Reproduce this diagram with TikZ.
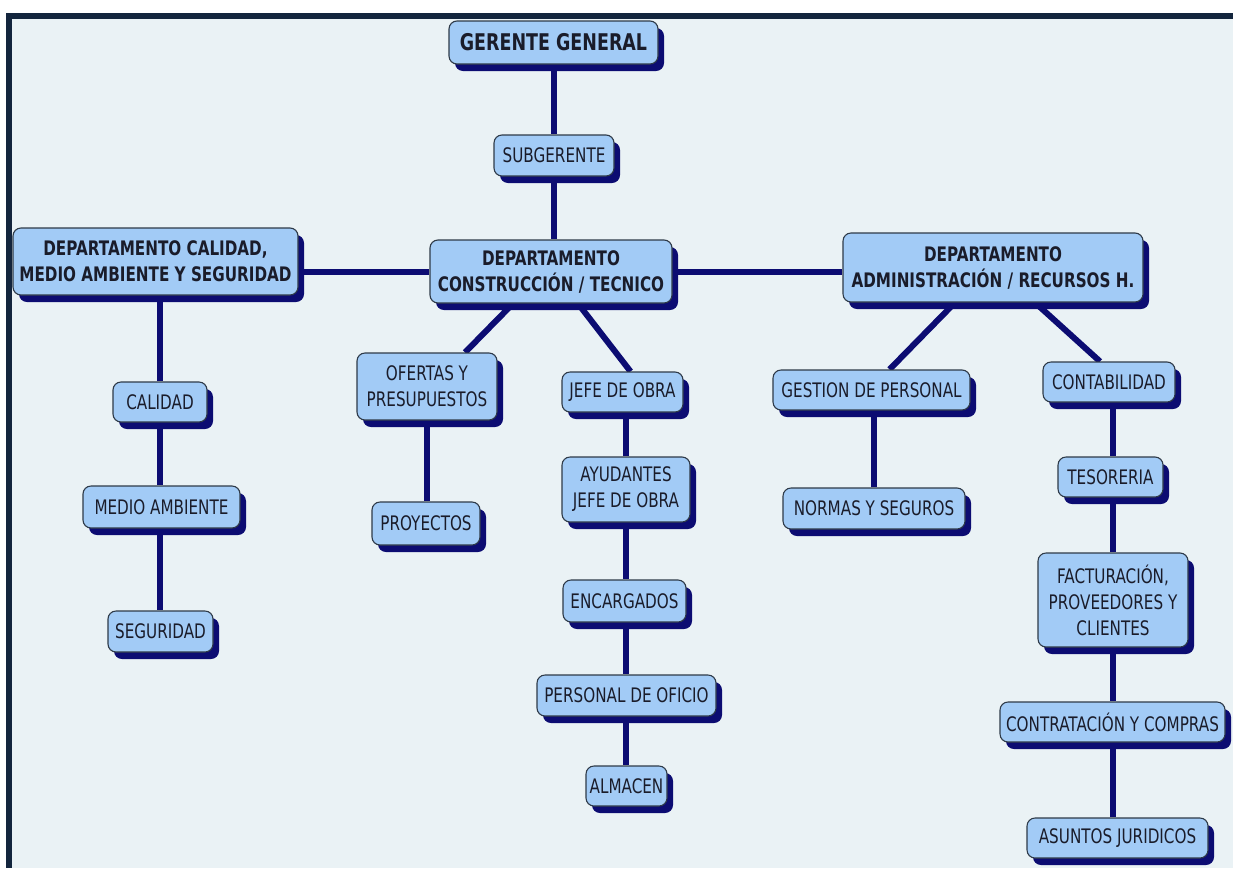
\documentclass[tikz,border=0pt]{standalone}
\usepackage{fontspec}
\setmainfont{DejaVu Sans}[FakeStretch=0.76]
\usetikzlibrary{shadows,calc}
\definecolor{pagebg}{HTML}{EAF2F5}
\definecolor{framecol}{HTML}{13253D}
\definecolor{boxfill}{HTML}{A2CBF6}
\definecolor{boxline}{HTML}{2E3A48}
\definecolor{navy}{HTML}{0C0C72}
\definecolor{ink}{HTML}{1A1C2A}
\pgfdeclarelayer{back}
\pgfdeclarelayer{links}
\pgfsetlayers{back,links,main}
\tikzset{
  orgbox/.style={draw=boxline, line width=1.1pt, fill=boxfill, rounded corners=8pt,
    text=ink, align=center, inner sep=2pt,
    font=\fontsize{20}{26}\selectfont,
    drop shadow={shadow xshift=6pt, shadow yshift=-7pt, fill=navy, opacity=1}},
  headbox/.style={orgbox, font=\bfseries\fontsize{20}{26}\selectfont},
  link/.style={draw=navy, line width=6pt}
}
\begin{document}
\begin{tikzpicture}[x=1pt, y=-1pt]
\useasboundingbox (0,0) rectangle (1233,868);
\begin{pgfonlayer}{back}
  \fill[white] (0,0) rectangle (1233,868);
  \fill[pagebg] (6,13) rectangle (1233,868);
  \fill[framecol] (6,13) rectangle (1233,19);
  \fill[framecol] (6,13) rectangle (12,868);
\end{pgfonlayer}

% top of the hierarchy
\node[headbox, font=\bfseries\fontsize{23}{28}\selectfont, minimum width=209, minimum height=43] (gg) at (553.5,42.5) {GERENTE GENERAL};
\node[orgbox, minimum width=120, minimum height=41] (sub) at (554,155.5) {SUBGERENTE};

% departments
\node[headbox, minimum width=285, minimum height=67] (dcal) at (155.5,261.5) {DEPARTAMENTO CALIDAD,\\MEDIO AMBIENTE Y SEGURIDAD};
\node[headbox, minimum width=242, minimum height=63] (cons) at (551,271.5) {DEPARTAMENTO\\CONSTRUCCIÓN / TECNICO};
\node[headbox, minimum width=300, minimum height=69] (adm) at (993,267.5) {DEPARTAMENTO\\ADMINISTRACIÓN / RECURSOS H.};

% quality, environment and safety
\node[orgbox, minimum width=94, minimum height=40] (cal) at (160,402) {CALIDAD};
\node[orgbox, minimum width=157, minimum height=42] (med) at (161.5,507) {MEDIO AMBIENTE};
\node[orgbox, minimum width=105, minimum height=41] (seg) at (160.5,631.5) {SEGURIDAD};

% construction
\node[orgbox, minimum width=140, minimum height=67] (ofe) at (427,386.5) {OFERTAS Y\\PRESUPUESTOS};
\node[orgbox, minimum width=108, minimum height=43] (proy) at (426,523.5) {PROYECTOS};
\node[orgbox, minimum width=121, minimum height=40] (jefe) at (622.5,392) {JEFE DE OBRA};
\node[orgbox, minimum width=128, minimum height=65] (ayu) at (626,489.5) {AYUDANTES\\JEFE DE OBRA};
\node[orgbox, minimum width=123, minimum height=42] (enc) at (624.5,601) {ENCARGADOS};
\node[orgbox, minimum width=179, minimum height=41] (per) at (626.5,695.5) {PERSONAL DE OFICIO};
\node[orgbox, minimum width=81, minimum height=40] (alm) at (626.5,786) {ALMACEN};

% administration / human resources
\node[orgbox, minimum width=197, minimum height=40] (gest) at (871.5,390) {GESTION DE PERSONAL};
\node[orgbox, minimum width=182, minimum height=41] (nor) at (874,508.5) {NORMAS Y SEGUROS};
\node[orgbox, minimum width=132, minimum height=40] (cont) at (1109,382) {CONTABILIDAD};
\node[orgbox, minimum width=105, minimum height=40] (tes) at (1110.5,477) {TESORERIA};
\node[orgbox, minimum width=150, minimum height=94] (fac) at (1113,600) {FACTURACIÓN,\\PROVEEDORES Y\\CLIENTES};
\node[orgbox, minimum width=225, minimum height=40] (ctr) at (1112.5,722) {CONTRATACIÓN Y COMPRAS};
\node[orgbox, minimum width=181, minimum height=40] (asu) at (1117.5,838) {ASUNTOS JURIDICOS};

\begin{pgfonlayer}{links}
  \path[link] (gg.south -| sub.north) -- (sub.north);
  \path[link] (sub.south) -- (sub.south |- cons.north);
  \path[link] (cons.west) -- (cons.west -| dcal.east);
  \path[link] (cons.east) -- (cons.east -| adm.west);
  % quality chain
  \path[link] (cal.north) -- (cal.north |- dcal.south);
  \path[link] (cal.south) -- (cal.south |- med.north);
  \path[link] (med.south -| cal.south) -- (cal.south |- seg.north);
  % construction branches
  \path[link] ($(cons.south)+(-38,0)$) -- ($(ofe.north)+(38,0)$);
  \path[link] ($(cons.south)+(27,0)$) -- ($(jefe.north)+(8,0)$);
  \path[link] (ofe.south) -- (ofe.south |- proy.north);
  \path[link] (ayu.north) -- (ayu.north |- jefe.south);
  \path[link] (ayu.south) -- (ayu.south |- enc.north);
  \path[link] (ayu.south |- enc.south) -- (ayu.south |- per.north);
  \path[link] (ayu.south |- per.south) -- (ayu.south |- alm.north);
  % administration branches
  \path[link] ($(adm.south)+(-38,0)$) -- ($(gest.north)+(18,0)$);
  \path[link] ($(adm.south)+(42,0)$) -- ($(cont.north)+(-9,0)$);
  \path[link] (nor.north) -- (nor.north |- gest.south);
  \path[link] (fac.north |- cont.south) -- (fac.north |- tes.north);
  \path[link] (fac.north |- tes.south) -- (fac.north);
  \path[link] (fac.south) -- (fac.south |- ctr.north);
  \path[link] (fac.south |- ctr.south) -- (fac.south |- asu.north);
\end{pgfonlayer}
\end{tikzpicture}
\end{document}
